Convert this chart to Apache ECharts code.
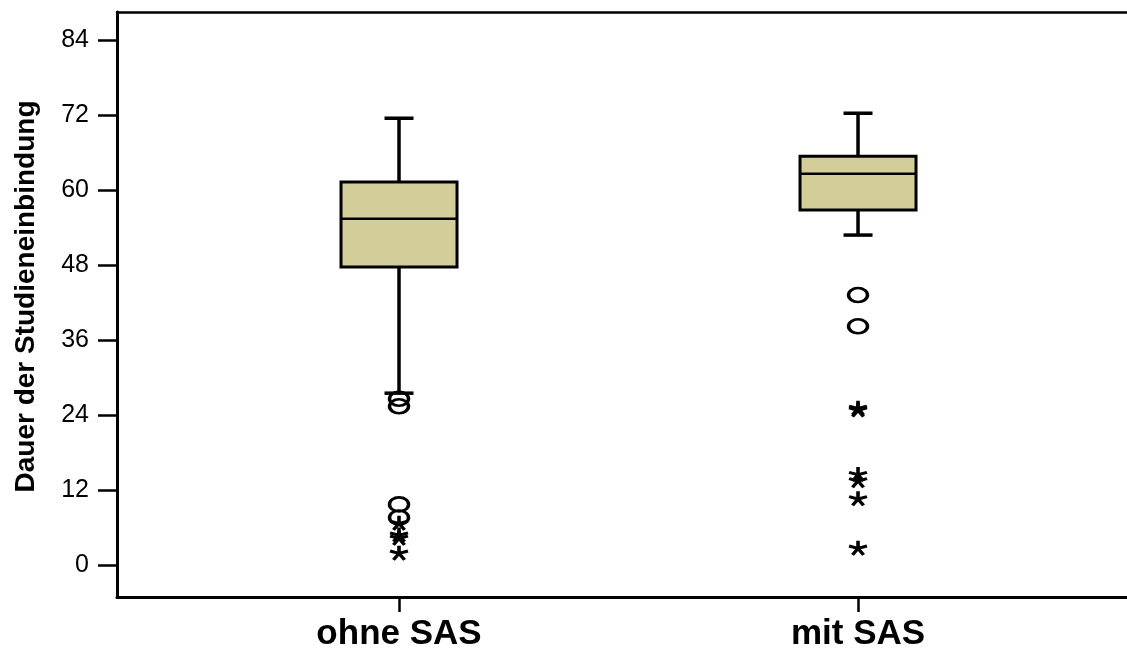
<!DOCTYPE html>
<html>
<head>
<meta charset="utf-8">
<script src="https://cdn.jsdelivr.net/npm/echarts@6/dist/echarts.min.js"></script>
<style>
html,body{margin:0;padding:0;background:#fff;}
#chart{width:1127px;height:652px;}
</style>
</head>
<body>
<div id="chart"></div>
<script>
// ---- data ----
const categories = ['ohne SAS', 'mit SAS'];
const whiskerLow = [27.5, 52.8];
const q1 = [47.7, 56.8];
const median = [55.4, 62.6];
const q3 = [61.3, 65.4];
const whiskerHigh = [71.5, 72.3];
const ohneCircles = [26.6, 25.4, 9.7, 7.6];
const ohneStars = [6.7, 4.8, 4.3, 1.9];
const mitCircles = [43.2, 38.2];
const mitStars = [25.1, 24.8, 14.5, 13.5, 10.6, 2.7];
const yTicks = [0, 12, 24, 36, 48, 60, 72, 84];

// ---- build ----
const boxData = categories.map((c, i) => [i, whiskerLow[i], q1[i], median[i], q3[i], whiskerHigh[i]]);
const circleData = ohneCircles.map(v => [0, v]).concat(mitCircles.map(v => [1, v]));
const starData = ohneStars.map(v => [0, v]).concat(mitStars.map(v => [1, v]));

function asteriskPath() {
  const L = 50, w = 19, cx = 50, cy = 50;
  let d = '';
  for (let k = 0; k < 5; k++) {
    const a = (-90 + 72 * k) * Math.PI / 180;
    const dx = Math.cos(a), dy = Math.sin(a);
    const px = -dy, py = dx;
    const pts = [
      [cx + px * w / 2 - dx * 4, cy + py * w / 2 - dy * 4],
      [cx + dx * L + px * w / 2, cy + dy * L + py * w / 2],
      [cx + dx * L - px * w / 2, cy + dy * L - py * w / 2],
      [cx - px * w / 2 - dx * 4, cy - py * w / 2 - dy * 4]
    ];
    d += 'M' + pts.map(p => p[0].toFixed(2) + ' ' + p[1].toFixed(2)).join(' L') + ' Z ';
  }
  return 'path://' + d;
}

const BOX_HALF = 58, CAP_HALF = 14.5;
const black = '#000';
const FONT = 'Liberation Sans, Arial, sans-serif';

const chart = echarts.init(document.getElementById('chart'));
chart.setOption({
  animation: false,
  backgroundColor: '#fff',
  grid: { left: 117, right: 0, top: 12, bottom: 55 },
  xAxis: [{
    type: 'value',
    min: -0.6144, max: 1.586,
    splitLine: { show: false },
    axisLine: { show: true, onZero: false, lineStyle: { color: black, width: 3 } },
    axisTick: { show: true, length: 15, customValues: [0, 1], lineStyle: { color: black, width: 2.5 } },
    axisLabel: {
      customValues: [0, 1],
      formatter: v => categories[Math.round(v)],
      margin: 20, color: black,
      fontFamily: FONT, fontWeight: 'bold', fontSize: 35
    }
  }, {
    type: 'value', position: 'top',
    min: -0.6144, max: 1.586,
    splitLine: { show: false },
    axisLine: { show: true, onZero: false, lineStyle: { color: black, width: 2.5 } },
    axisTick: { show: false }, axisLabel: { show: false }
  }],
  yAxis: {
    type: 'value',
    min: -5.12, max: 88.5,
    splitLine: { show: false },
    name: 'Dauer der Studieneinbindung',
    nameLocation: 'middle', nameGap: 77,
    nameTextStyle: { fontFamily: FONT, fontWeight: 'bold', fontSize: 28, color: black, padding: [0, 0, 0, 16] },
    axisLine: { show: true, onZero: false, lineStyle: { color: black, width: 3 } },
    axisTick: { show: true, length: 19, customValues: yTicks, lineStyle: { color: black, width: 2.5 } },
    axisLabel: {
      customValues: yTicks, margin: 28, color: black,
      fontFamily: FONT, fontSize: 25
    }
  },
  series: [{
    type: 'custom',
    data: boxData,
    z: 2,
    renderItem: function (params, api) {
      const x = api.value(0);
      const pLow = api.coord([x, api.value(1)]);
      const pQ1 = api.coord([x, api.value(2)]);
      const pMed = api.coord([x, api.value(3)]);
      const pQ3 = api.coord([x, api.value(4)]);
      const pHigh = api.coord([x, api.value(5)]);
      const cx = pQ1[0];
      const ls = { stroke: black, lineWidth: 3.5 };
      return {
        type: 'group',
        children: [
          { type: 'line', shape: { x1: cx, y1: pHigh[1], x2: cx, y2: pQ3[1] }, style: ls },
          { type: 'line', shape: { x1: cx, y1: pQ1[1], x2: cx, y2: pLow[1] }, style: ls },
          { type: 'line', shape: { x1: cx - CAP_HALF, y1: pHigh[1], x2: cx + CAP_HALF, y2: pHigh[1] }, style: ls },
          { type: 'line', shape: { x1: cx - CAP_HALF, y1: pLow[1], x2: cx + CAP_HALF, y2: pLow[1] }, style: ls },
          { type: 'rect', shape: { x: cx - BOX_HALF, y: pQ3[1], width: BOX_HALF * 2, height: pQ1[1] - pQ3[1] },
            style: { fill: '#d3ce99', stroke: black, lineWidth: 3 } },
          { type: 'line', shape: { x1: cx - BOX_HALF, y1: pMed[1], x2: cx + BOX_HALF, y2: pMed[1] }, style: { stroke: black, lineWidth: 2.5 } }
        ]
      };
    }
  }, {
    type: 'scatter',
    data: circleData,
    z: 3,
    symbol: 'circle',
    symbolSize: [19, 14],
    itemStyle: { color: 'rgba(0,0,0,0)', borderColor: black, borderWidth: 3, opacity: 1 }
  }, {
    type: 'scatter',
    data: starData,
    z: 3,
    symbol: asteriskPath(),
    symbolSize: [19, 15],
    itemStyle: { color: black, opacity: 1 }
  }]
});
</script>
</body>
</html>
